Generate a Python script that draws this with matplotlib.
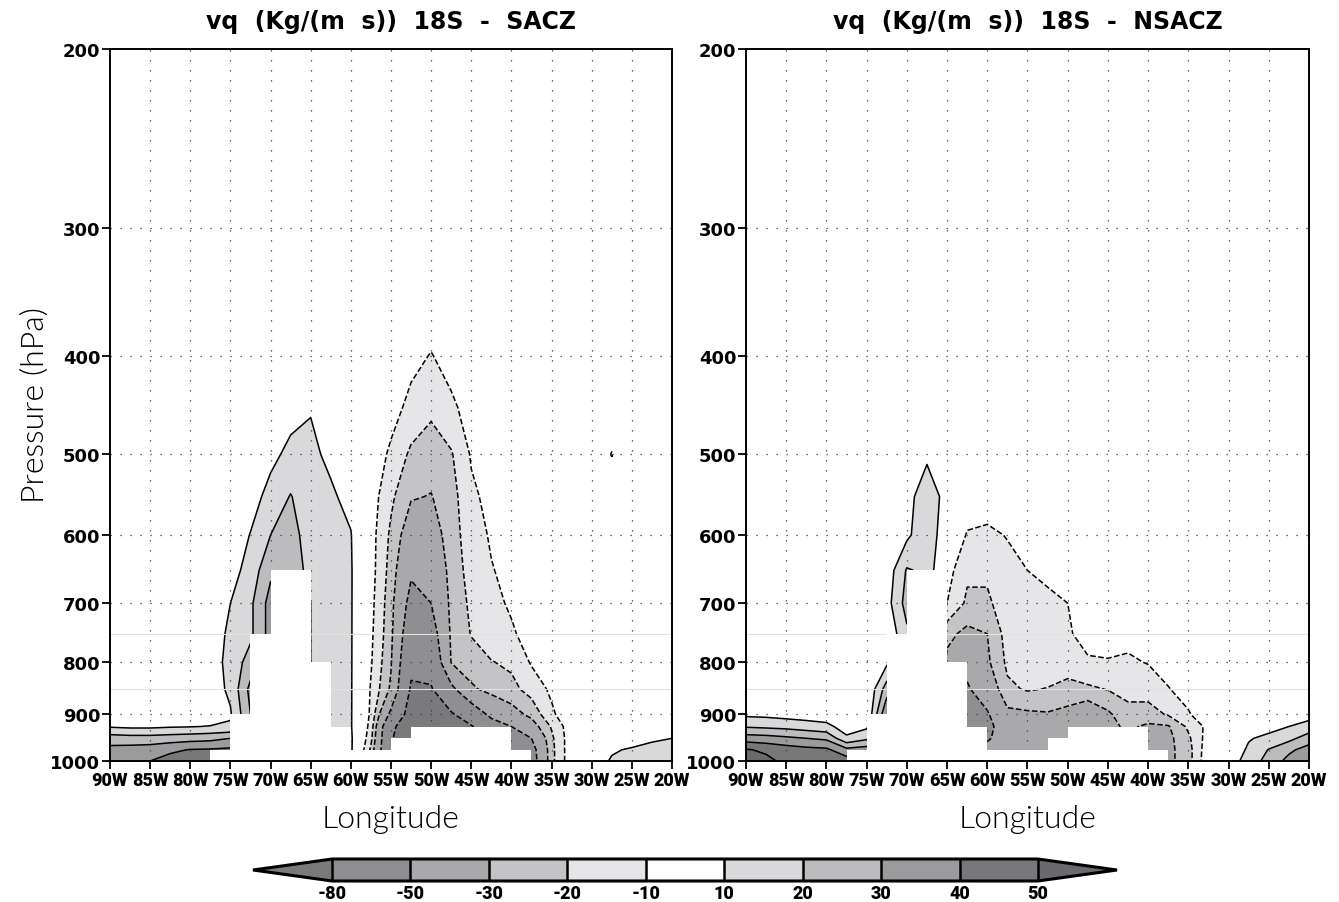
"""
Meridional moisture flux vq at 18S, longitude x pressure sections,
SACZ vs NSACZ composites (GrADS-style grey shading).
"""
import numpy as np
import matplotlib
matplotlib.use('Agg')
import matplotlib.pyplot as plt
from matplotlib.colors import ListedColormap, BoundaryNorm
from matplotlib.ticker import FixedLocator, NullLocator, NullFormatter

# ── grid ──────────────────────────────────────────────────────────────────────
LON = [-90, -87.5, -85, -82.5, -80, -77.5, -75, -72.5, -70, -67.5, -65, -62.5,
       -60, -57.5, -55, -52.5, -50, -47.5, -45, -42.5, -40, -37.5, -35, -32.5,
       -30, -27.5, -25, -22.5, -20]
PLEV = [1000, 975, 950, 925, 900, 850, 800, 750, 700, 650, 600, 550, 500, 450,
        400, 350, 200]

# vq values, one row per pressure level (1000 -> 200 hPa)
SACZ = [
    [38, 39, 40, 44, 47, 48, 45, 32, 35, 30, 20, 14, 12, -24, -80, -97, -92, -82, -85, -72, -70, -60, -23, -3, 5, 11, 14, 16, 17],
    [33, 34, 35, 38, 40.5, 41, 42, 34, 35, 30, 20, 14, 12, -22, -78, -97, -92, -82, -85, -72, -68, -58, -23, -3, 3, 9, 11, 13, 14],
    [25, 24, 24, 25, 26, 27, 30, 32, 35, 30, 20, 14, 12, -17, -78, -97, -92, -81, -85, -70, -62, -50, -22, -3.5, 0, 4, 6, 8.5, 10],
    [9, 8, 8, 9, 9.5, 10.5, 11, 31, 35, 30, 20, 12, 11, -14, -75, -95, -92, -82, -82, -60, -50, -36, -19, -3.5, 0, 0, 2, 3, 4],
    [3, 2, 2, 3, 3, 3, 9, 30, 35, 30, 20, 13, 11, -12, -55, -92, -90, -83, -65, -45, -35, -27, -12, -2, 0, 0, 0, 0, 0],
    [0, 0, 0, 0, 0.5, 5, 12, 33, 35, 30, 20, 14, 11, -11, -32, -83, -82, -55, -32, -26, -23, -16, -8, -1, 0, 0, 0, 0, 0],
    [0, 0, 0, 0, 0, 4, 14, 24, 35, 30, 20, 15, 11, -9, -29, -74, -70, -29.5, -24, -20.5, -18, -9, -5, -1, 0, 0, 0, 0, 0],
    [0, 0, 0, 0, 0, 2, 13, 18, 34, 30, 20, 15, 11, -8, -27, -66, -60, -28, -19.5, -14, -11, -7, -3, 0, 0, 0, 0, 0, 0],
    [0, 0, 0, 0, 0, 1, 10, 18, 34, 30, 20, 15, 11, -7, -26, -57, -50, -27, -18, -12, -9, -5, -2, 0, 0, 0, 0, 0, 0],
    [0, 0, 0, 0, 0, 0, 6, 14, 28, 27, 16, 14, 11, -6, -24, -47, -43, -26, -16, -10.5, -7.5, -4, -1, 0, 0, 0, 0, 0, 0],
    [0, 0, 0, 0, 0, 0, 2, 10.5, 20, 24, 15, 13, 10.5, -6, -22, -38, -36, -25, -14, -9, -6, -3, 0, 0, 0, 0, 0, 0, 0],
    [0, 0, 0, 0, 0, 0, 0, 5, 14, 20.5, 14, 11.5, 7, -5, -18, -29, -30.5, -24, -12, -7, -4, -2, 0, 0, 0, 0, 0, 0, 0],
    [0, 0, 0, 0, 0, 0, 0, 2, 7, 13, 12, 8, 3, -3, -12, -22, -25, -21, -9, -5, -3, -1, 0, 0, 0, -10.6, 0, 0, 0],
    [0, 0, 0, 0, 0, 0, 0, 0, 2, 6, 9.5, 4, 1, -1, -6, -13, -18, -12, -6, -3, -1, 0, 0, 0, 0, 0, 0, 0, 0],
    [0, 0, 0, 0, 0, 0, 0, 0, 0, 0, 1, 0, 0, 0, -1, -7, -10.5, -6, -3, -1, 0, 0, 0, 0, 0, 0, 0, 0, 0],
    [0, 0, 0, 0, 0, 0, 0, 0, 0, 0, 0, 0, 0, 0, 0, -2, -3, -1, 0, 0, 0, 0, 0, 0, 0, 0, 0, 0, 0],
    [0, 0, 0, 0, 0, 0, 0, 0, 0, 0, 0, 0, 0, 0, 0, 0, 0, 0, 0, 0, 0, 0, 0, 0, 0, 0, 0, 0, 0],
]

NSACZ = [
    [55, 53, 47, 46, 45, 45, 40, 40, 20, 18, -40, -60, -45, -35, -33, -34, -32, -31, -33, -28, -36, -33, -24, -2, 5, 14, 24, 33, 40],
    [51, 48, 45, 43, 42, 33, 35, 40, 20, 18, -40, -60, -45, -35, -33, -34, -32, -31, -33, -30, -36, -33, -24, -3, 1, 12, 20.5, 28, 34],
    [35, 34, 32, 30, 28, 12, 18, 40, 20, 18, -40, -60, -52, -42, -35, -33, -32, -31, -33, -29, -35, -33, -22, -5, 0, 9, 13, 17, 25],
    [19, 18, 17, 15, 13, 5, 8, 40, 20, 18, -40, -60, -56, -38, -34, -33, -31, -31, -33, -28, -32, -31, -18, -7, 0, 2, 6, 10, 14],
    [8, 7.5, 6, 5, 4, 2, 0, 40, 20, 18, -40, -58, -52, -33, -32, -31, -33, -40, -32, -23, -24, -19, -11, -3, 0, 0, 0, 0, 6],
    [2, 2, 1, 0, 0, 0, 0, 25, 20, 18, -40, -52, -40, -22, -19, -20.5, -24, -22, -19.5, -17, -16, -10.5, -6, -1, 0, 0, 0, 0, 0],
    [0, 0, 0, 0, 0, 0, 0, 8, 20, 18, -33, -45, -32, -18, -13, -13, -14, -10.5, -10.5, -11.5, -9.5, -6, -3, 0, 0, 0, 0, 0, 0],
    [0, 0, 0, 0, 0, 0, 0, 2, 18, 18, -27, -33, -30, -16, -11, -12, -10.5, -8.5, -7, -7, -5.5, -3, -1, 0, 0, 0, 0, 0, 0],
    [0, 0, 0, 0, 0, 0, 0, 6, 24, 18, -10, -22, -22, -14, -10.5, -11, -10, -8, -5, -4, -3, -1, 0, 0, 0, 0, 0, 0, 0],
    [0, 0, 0, 0, 0, 0, 0, 4, 21, 18, -6, -18, -18, -13, -10, -9, -7, -6, -3, -2, -1, 0, 0, 0, 0, 0, 0, 0, 0],
    [0, 0, 0, 0, 0, 0, 0, 2, 8, 17, 3, -11, -12, -9.5, -6, -5, -4, -3, -1, 0, 0, 0, 0, 0, 0, 0, 0, 0, 0],
    [0, 0, 0, 0, 0, 0, 0, 0, 7, 15, 7, -3, -5, -4, -2, -1, -1, 0, 0, 0, 0, 0, 0, 0, 0, 0, 0, 0, 0],
    [0, 0, 0, 0, 0, 0, 0, 0, 4, 8.5, 5, 0, 0, 0, 0, 0, 0, 0, 0, 0, 0, 0, 0, 0, 0, 0, 0, 0, 0],
    [0, 0, 0, 0, 0, 0, 0, 0, 0, 2, 1, 0, 0, 0, 0, 0, 0, 0, 0, 0, 0, 0, 0, 0, 0, 0, 0, 0, 0],
    [0, 0, 0, 0, 0, 0, 0, 0, 0, 0, 0, 0, 0, 0, 0, 0, 0, 0, 0, 0, 0, 0, 0, 0, 0, 0, 0, 0, 0],
    [0, 0, 0, 0, 0, 0, 0, 0, 0, 0, 0, 0, 0, 0, 0, 0, 0, 0, 0, 0, 0, 0, 0, 0, 0, 0, 0, 0, 0],
    [0, 0, 0, 0, 0, 0, 0, 0, 0, 0, 0, 0, 0, 0, 0, 0, 0, 0, 0, 0, 0, 0, 0, 0, 0, 0, 0, 0, 0],
]

# below-ground (undefined) blocks: surface level per longitude strip
MASK_EDGES_SACZ = [-90, -77.5, -75, -72.5, -70, -65, -62.5, -60, -55, -52.5, -40, -37.5, -20]
MASK_TOP_SACZ   = [1000, 975, 900, 750, 650, 800, 925, 975, 950, 925, 975, 1000]
MASK_EDGES_NSACZ = [-90, -77.5, -75, -72.5, -70, -65, -62.5, -60, -52.5, -50, -40, -37.5, -20]
MASK_TOP_NSACZ   = [1000, 975, 900, 750, 650, 800, 925, 975, 950, 925, 975, 1000]
FAINT_P = [750, 850]

LEVELS = [-80, -50, -30, -20, -10, 10, 20, 30, 40, 50]
SHADES = ['#7a7a7d', '#8f8f92', '#a9a9ac', '#c4c4c6', '#e6e6e8', '#ffffff',
          '#d9d9db', '#bcbcbe', '#9b9b9d', '#78787b', '#6a6a6e']

XTICKS = [-90, -85, -80, -75, -70, -65, -60, -55, -50, -45, -40, -35, -30, -25, -20]
XLABELS = ['90W', '85W', '80W', '75W', '70W', '65W', '60W', '55W', '50W', '45W',
           '40W', '35W', '30W', '25W', '20W']
YTICKS = [200, 300, 400, 500, 600, 700, 800, 900, 1000]

TITLES = ['vq  (Kg/(m  s))  18S  -  SACZ', 'vq  (Kg/(m  s))  18S  -  NSACZ']

NARROW = ['Roboto', 'DejaVu Sans']
THIN = ['Lato', 'DejaVu Sans']
W, H = 1339, 903

cmap = ListedColormap(SHADES)
norm = BoundaryNorm(LEVELS, ncolors=len(SHADES), extend='both')

fig = plt.figure(figsize=(W / 100, H / 100), dpi=100)
AX_BOX = [(110, 50, 672, 762), (746, 50, 1309, 762)]


def panel(box, data, edges, tops, title, left):
    x0, y0, x1, y1 = box
    ax = fig.add_axes([x0 / W, 1 - y1 / H, (x1 - x0) / W, (y1 - y0) / H])
    z = np.array(data, dtype=float)
    cf = ax.contourf(LON, PLEV, z, levels=LEVELS, cmap=cmap, norm=norm,
                     extend='both', zorder=1)
    ax.contour(LON, PLEV, z, levels=LEVELS, colors='k', linewidths=1.1,
               linestyles=['--' if l < 0 else '-' for l in LEVELS], zorder=1.5)
    # dotted grid
    for lon in XTICKS[1:-1]:
        ax.axvline(lon, color='#3a3a3a', lw=0.9, ls=(0, (1, 7)), zorder=1.7)
    for p in YTICKS[1:-1]:
        ax.axhline(p, color='#3a3a3a', lw=0.9, ls=(0, (1, 7)), zorder=1.7)
    for p in FAINT_P:
        ax.axhline(p, color='#e2e2e2', lw=0.8, zorder=1.8)
    ax.fill_between(edges, tops + [tops[-1]], 1000, step='post',
                    facecolor='white', edgecolor='none', lw=0, zorder=2)

    ax.set_yscale('log')
    ax.set_ylim(1000, 200)
    ax.set_xlim(-90, -20)
    ax.set_axisbelow(False)
    ax.yaxis.set_major_locator(FixedLocator(YTICKS))
    ax.yaxis.set_minor_locator(NullLocator())
    ax.yaxis.set_minor_formatter(NullFormatter())
    ax.set_yticklabels([str(p) for p in YTICKS], fontsize=13, fontweight='bold')
    ax.set_xticks(XTICKS)
    ax.set_xticklabels(XLABELS, fontsize=13, fontweight='black', family=NARROW)
    ax.tick_params(direction='out', length=6, width=1.3, pad=1)
    for s in ax.spines.values():
        s.set_linewidth(1.4)

    xc = (x0 + x1) / 2 / W
    fig.text(xc, 1 - 22 / H, title, ha='center', va='center', fontsize=17,
             fontweight='bold')
    fig.text(xc, 1 - 820 / H, 'Longitude', ha='center', va='center',
             fontsize=23, family=THIN, fontweight=300, color='black')
    if left:
        fig.text(35 / W, 1 - 405 / H, 'Pressure (hPa)', ha='center', va='center',
                 rotation=90, fontsize=23, family=THIN, fontweight=300,
                 color='black')
    return cf


cf = panel(AX_BOX[0], SACZ, MASK_EDGES_SACZ, MASK_TOP_SACZ, TITLES[0], True)
panel(AX_BOX[1], NSACZ, MASK_EDGES_NSACZ, MASK_TOP_NSACZ, TITLES[1], False)

cax = fig.add_axes([253 / W, 1 - 882 / H, 864 / W, 22 / H])
cb = fig.colorbar(cf, cax=cax, orientation='horizontal', extend='both',
                  extendfrac=0.112, drawedges=True, ticks=LEVELS)
cb.outline.set_linewidth(2.2)
cb.dividers.set_linewidth(1.8)
cb.set_ticklabels([str(l) for l in LEVELS])
cax.tick_params(length=0, pad=2)
for t in cax.get_xticklabels():
    t.set_fontweight('black')
    t.set_fontsize(13)
    t.set_family(NARROW)

fig.savefig('out.png', dpi=100)
